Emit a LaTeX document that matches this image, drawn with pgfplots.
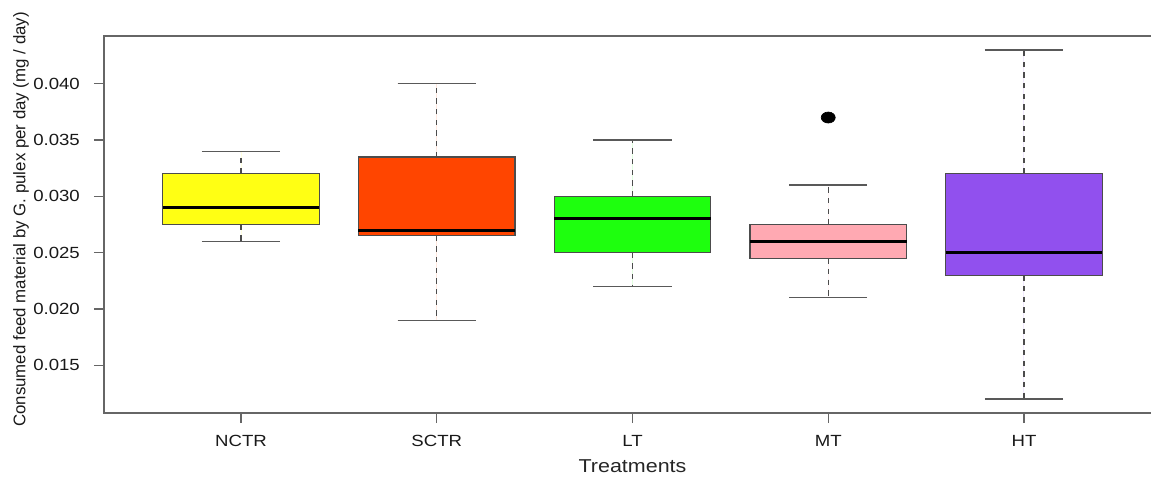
\documentclass[border=0pt]{standalone}
\usepackage{fontspec}
\setmainfont{Liberation Sans}
\newfontfamily\wide{Liberation Sans}[FakeStretch=1.15]
\usepackage{pgfplots}
\pgfplotsset{compat=1.18}
\usepgfplotslibrary{statistics}
\definecolor{cY}{HTML}{FFFF14}
\definecolor{cO}{HTML}{FF4500}
\definecolor{cG}{HTML}{1EFF0E}
\definecolor{cP}{HTML}{FFA9B2}
\definecolor{cV}{HTML}{9150EE}
\tikzset{whisk/.style={draw=black!70, line width=0.85pt, dash pattern=on 3.2pt off 3.2pt},
         capst/.style={draw=black!65, line width=0.8pt, solid}}
\pgfplotsset{
 boxplot/draw/lower whisker/.code={%
   \draw[whisk] (boxplot cs:\pgfplotsboxplotvalue{lower quartile}) -- (boxplot cs:\pgfplotsboxplotvalue{lower whisker});
   \draw[capst] (boxplot whisker cs:\pgfplotsboxplotvalue{lower whisker},0) -- (boxplot whisker cs:\pgfplotsboxplotvalue{lower whisker},1);
 },
 boxplot/draw/upper whisker/.code={%
   \draw[whisk] (boxplot cs:\pgfplotsboxplotvalue{upper quartile}) -- (boxplot cs:\pgfplotsboxplotvalue{upper whisker});
   \draw[capst] (boxplot whisker cs:\pgfplotsboxplotvalue{upper whisker},0) -- (boxplot whisker cs:\pgfplotsboxplotvalue{upper whisker},1);
 },
}
% values in units of 0.001 mg/day
\begin{document}
\begin{tikzpicture}
\begin{axis}[
 name=ax, scale only axis, width=634.2pt, height=226.2pt,
 xmin=0.3, xmax=5.7, ymin=10.76, ymax=44.24,
 xtick={1,2,3,4,5}, xticklabels={NCTR,SCTR,LT,MT,HT},
 ytick={15,20,25,30,35,40},
 yticklabels={0.015,0.020,0.025,0.030,0.035,0.040},
 tick label style={font=\wide\fontsize{9.7}{11}\selectfont, text=black!90},
 yticklabel style={xshift=-5pt},
 xticklabel style={yshift=-3.6pt},
 tick pos=left, tick align=outside, major tick length=6pt,
 tick style={black!60, line width=0.7pt},
 axis line style={black!60, line width=0.7pt},
 boxplot/draw direction=y,
 boxplot/box extend=0.8, boxplot/whisker extend=0.4,
 boxplot/every box/.style={draw=black!70, line width=0.8pt},
 boxplot/every median/.style={draw=black, line width=1.9pt},
 clip=false,
]
\addplot[fill=cY, boxplot prepared={lower whisker=26, lower quartile=27.5, median=29, upper quartile=32, upper whisker=34, draw position=1}] coordinates {};
\addplot[fill=cO, boxplot prepared={lower whisker=19, lower quartile=26.5, median=27, upper quartile=33.5, upper whisker=40, draw position=2}] coordinates {};
\addplot[fill=cG, boxplot prepared={lower whisker=22, lower quartile=25, median=28, upper quartile=30, upper whisker=35, draw position=3}] coordinates {};
\addplot[fill=cP, mark=*, mark options={fill=black, draw=black, xscale=1.27}, mark size=3.3pt, boxplot prepared={lower whisker=21, lower quartile=24.5, median=26, upper quartile=27.5, upper whisker=31, draw position=4}] table[row sep=\\, y index=0] {data\\ 37\\};
\addplot[fill=cV, boxplot prepared={lower whisker=12, lower quartile=23, median=25, upper quartile=32, upper whisker=43, draw position=5}] coordinates {};
\end{axis}
\node[rotate=90, anchor=west, inner sep=0pt, font=\fontsize{10.1}{12}\selectfont, text=black!90] at (-49.8pt,-8.4pt) {Consumed feed material by G. pulex per day (mg / day)};
\node[inner sep=0pt, font=\wide\fontsize{11.2}{13}\selectfont, text=black!85] at (317.1pt,-31.8pt) {Treatments};
\pgfresetboundingbox
\path[use as bounding box] (-62.4pt,-39.6pt) rectangle (628.2pt,247.8pt);
\end{tikzpicture}
\end{document}
